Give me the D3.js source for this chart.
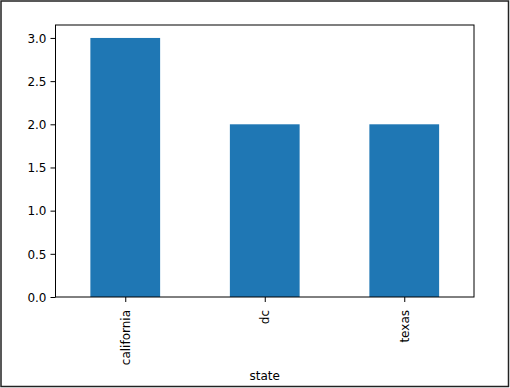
<!DOCTYPE html>
<html><head><meta charset="utf-8">
<script src="https://cdn.jsdelivr.net/npm/d3@7"></script>
<style>body{margin:0;background:#fff}svg{display:block}text{font-family:"DejaVu Sans",sans-serif}</style>
</head><body>
<script>
const categories = ["california", "dc", "texas"];
const values = [3, 2, 2];
const yTicks = [0, 0.5, 1.0, 1.5, 2.0, 2.5, 3.0];
const xLabel = "state";

const W = 510, H = 388;
const m = {left: 55.5, right: 474, top: 25, bottom: 297};
const svg = d3.select("body").append("svg").attr("width", W).attr("height", H);
svg.append("rect").attr("x", 1).attr("y", 1).attr("width", 507.5).attr("height", 385.5)
  .attr("fill", "#fff").attr("stroke", "#222").attr("stroke-width", 1.5);

const x = d3.scaleLinear().domain([-0.5, categories.length - 0.5]).range([m.left, m.right]);
const y = d3.scaleLinear().domain([0, 3.15]).range([m.bottom, m.top]);

svg.append("g").selectAll("rect").data(values).join("rect")
  .attr("x", (d, i) => x(i - 0.25)).attr("width", (d, i) => x(i + 0.25) - x(i - 0.25))
  .attr("y", d => y(d)).attr("height", d => y(0) - y(d)).attr("fill", "#1f77b4");

const yAxis = svg.append("g").attr("transform", `translate(${m.left},0)`)
  .call(d3.axisLeft(y).tickValues(yTicks).tickFormat(d3.format(".1f")).tickSize(5).tickPadding(4));
yAxis.select(".domain").remove();
yAxis.selectAll("text").attr("font-size", 12).attr("fill", "#000").attr("dy", "0.35em");
yAxis.selectAll("line").attr("stroke", "#000");

const xAxis = svg.append("g").attr("transform", `translate(0,${m.bottom})`)
  .call(d3.axisBottom(x).tickValues(categories.map((c, i) => i)).tickFormat(i => categories[i]).tickSize(5));
xAxis.select(".domain").remove();
xAxis.selectAll("line").attr("stroke", "#000");
xAxis.selectAll("text").attr("font-size", 12).attr("fill", "#000")
  .attr("transform", "rotate(-90)").attr("text-anchor", "end")
  .attr("x", -13).attr("y", 0).attr("dy", "0.35em");

svg.append("rect").attr("x", m.left).attr("y", m.top).attr("width", m.right - m.left)
  .attr("height", m.bottom - m.top).attr("fill", "none").attr("stroke", "#000").attr("stroke-width", 1);

svg.append("text").attr("x", (m.left + m.right) / 2).attr("y", 380).attr("text-anchor", "middle")
  .attr("font-size", 12).attr("fill", "#000").text(xLabel);
</script>
</body></html>
